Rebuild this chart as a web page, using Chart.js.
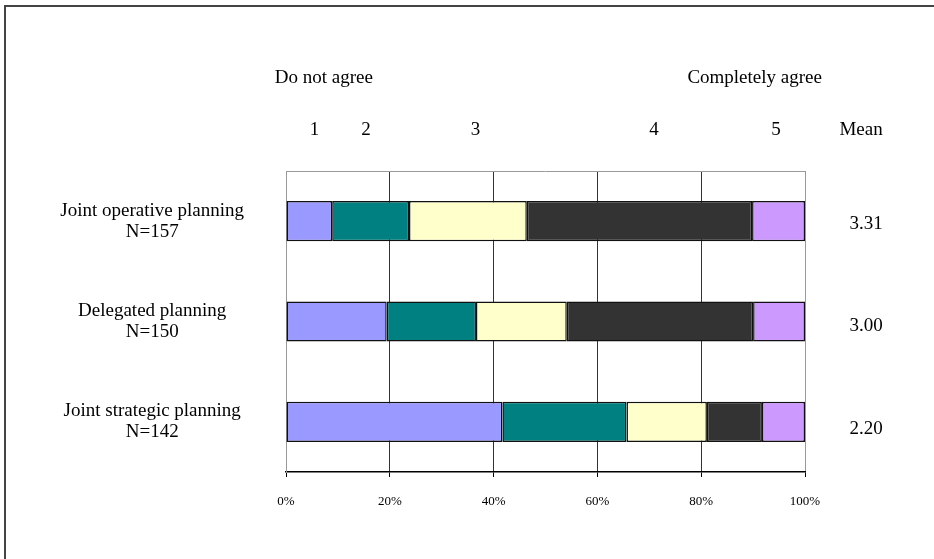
<!DOCTYPE html>
<html>
<head>
<meta charset="utf-8">
<script src="https://cdn.jsdelivr.net/npm/chart.js@4/dist/chart.umd.min.js"></script>
<style>
  html, body { margin: 0; padding: 0; background: #fff; overflow: hidden; }
  #frame { position: absolute; left: 4px; top: 5px; width: 960px; height: 600px; border-top: 2px solid #444; border-left: 2px solid #444; }
  #wrap { position: absolute; left: 0; top: 0; width: 934px; height: 559px; }
</style>
</head>
<body>
<div id="frame"></div>
<div id="wrap"><canvas id="agreeChart" width="934" height="559"></canvas></div>
<script>
const categories = [
    ['Joint operative planning', 'N=157'],
    ['Delegated planning', 'N=150'],
    ['Joint strategic planning', 'N=142']
];
const scalePoints = ['1', '2', '3', '4', '5'];
// share of answers per scale point (%)
const share1 = [8.9, 19.4, 41.7];
const share2 = [14.8, 17.2, 23.9];
const share3 = [22.7, 17.5, 15.5];
const share4 = [43.4, 35.9, 10.6];
const share5 = [10.2, 10.0, 8.3];
const means = ['3.31', '3.00', '2.20'];
const xTickValues = [0, 20, 40, 60, 80, 100];

const colors = ['#9999FF', '#008080', '#FFFFCC', '#333333', '#CC99FF'];
const serif = '"Liberation Serif", "Times New Roman", serif';

const headerPlugin = {
    id: 'headers',
    afterDraw(chart) {
        const { ctx, chartArea, scales: { x, y } } = chart;
        ctx.save();
        // top edge of plot area
        ctx.strokeStyle = '#999';
        ctx.lineWidth = 1;
        ctx.beginPath();
        ctx.moveTo(chartArea.left, chartArea.top + 0.5);
        ctx.lineTo(chartArea.right, chartArea.top + 0.5);
        ctx.stroke();

        ctx.fillStyle = '#000';
        ctx.font = '19px ' + serif;
        ctx.textAlign = 'center';
        ctx.textBaseline = 'middle';
        ctx.fillText('Do not agree', x.getPixelForValue(7.3), 78);
        ctx.fillText('Completely agree', x.getPixelForValue(90.3), 78);

        const pointPos = [5.5, 15.4, 36.5, 70.9, 94.4];
        scalePoints.forEach((p, i) => ctx.fillText(p, x.getPixelForValue(pointPos[i]), 130));
        ctx.fillText('Mean', x.getPixelForValue(110.8), 130);

        means.forEach((m, i) => ctx.fillText(m, x.getPixelForValue(111.8), y.getPixelForValue(i) + 3 + i * 2));
        ctx.restore();
    }
};

const shares = [share1, share2, share3, share4, share5];

new Chart(document.getElementById('agreeChart'), {
    type: 'bar',
    data: {
        labels: categories,
        datasets: shares.map((data, i) => ({
            label: scalePoints[i],
            data: data,
            backgroundColor: colors[i],
            borderColor: '#111',
            borderWidth: 1.5,
            borderSkipped: false,
            barPercentage: 0.4,
            categoryPercentage: 1
        }))
    },
    options: {
        indexAxis: 'y',
        responsive: false,
        animation: false,
        layout: { padding: { top: 171, right: 129, left: 0, bottom: 0 } },
        scales: {
            x: {
                stacked: true,
                min: 0,
                max: 100,
                afterBuildTicks: s => { s.ticks = xTickValues.map(v => ({ value: v })); },
                afterFit: s => { s.height = 87; },
                ticks: {
                    callback: v => v + '%',
                    color: '#000',
                    padding: 17,
                    maxRotation: 0,
                    font: { family: serif, size: 13 }
                },
                grid: {
                    color: c => (c.tick && (c.tick.value === 0 || c.tick.value === 100)) ? '#999' : '#333',
                    tickColor: '#000',
                    tickLength: 5
                },
                border: { display: true, color: '#000', width: 1.5 }
            },
            y: {
                stacked: true,
                afterFit: s => { s.width = 286; },
                grid: { display: false, drawTicks: false },
                border: { display: true, color: '#999' },
                ticks: {
                    color: '#000',
                    padding: 42,
                    crossAlign: 'center',
                    font: { family: serif, size: 19, lineHeight: 1.12 }
                }
            }
        },
        plugins: {
            legend: { display: false },
            tooltip: { enabled: false }
        }
    },
    plugins: [headerPlugin]
});
</script>
</body>
</html>
